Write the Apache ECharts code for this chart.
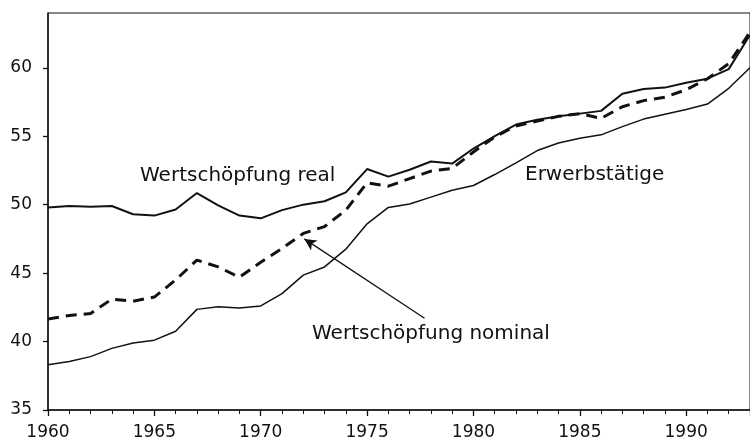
<!DOCTYPE html>
<html>
<head>
<meta charset="utf-8">
<script src="https://cdn.jsdelivr.net/npm/echarts@6/dist/echarts.min.js"></script>
<style>
  html, body { margin: 0; padding: 0; background: #fff; }
  #chart { width: 750px; height: 442px; }
</style>
</head>
<body>
<div id="chart"></div>
<script>
// Jahre 1960 - 1993
const years = [1960, 1961, 1962, 1963, 1964, 1965, 1966, 1967, 1968, 1969,
  1970, 1971, 1972, 1973, 1974, 1975, 1976, 1977, 1978, 1979,
  1980, 1981, 1982, 1983, 1984, 1985, 1986, 1987, 1988, 1989,
  1990, 1991, 1992, 1993]

const wertReal = [49.8, 49.9, 49.85, 49.9, 49.3, 49.2, 49.65, 50.85, 49.95, 49.2,
  49.0, 49.6, 50.0, 50.25, 50.9, 52.6, 52.05, 52.55, 53.15, 53.0,
  54.1, 55.0, 55.85, 56.2, 56.45, 56.65, 56.85, 58.1, 58.45, 58.55,
  58.9, 59.2, 59.9, 62.4]

const wertNominal = [41.65, 41.9, 42.05, 43.1, 42.95, 43.25, 44.5, 45.95, 45.45, 44.7,
  45.8, 46.8, 47.9, 48.4, 49.6, 51.6, 51.35, 51.9, 52.45, 52.65,
  53.85, 54.95, 55.75, 56.1, 56.45, 56.65, 56.3, 57.15, 57.6, 57.85,
  58.4, 59.2, 60.3, 62.6]

const erwerbstaetige = [38.3, 38.55, 38.9, 39.5, 39.9, 40.1, 40.75, 42.35, 42.55, 42.45,
  42.6, 43.5, 44.85, 45.45, 46.75, 48.6, 49.8, 50.05, 50.55, 51.05,
  51.4, 52.2, 53.05, 53.95, 54.5, 54.85, 55.1, 55.7, 56.25, 56.6,
  56.95, 57.35, 58.5, 60.0]

// Pfeil: von der Beschriftung zur nominalen Kurve
const arrowFrom = [1977.7, 41.7]
const arrowTo = [1972.05, 47.5]

const pair = arr => years.map((y, i) => [y, arr[i]])
const font = 'DejaVu Sans'
const ink = '#111'

const chart = echarts.init(document.getElementById('chart'))

chart.setOption({
  animation: false,
  grid: {
    left: 48,
    top: 13,
    bottom: 32,
    right: -6,
    show: true,
    borderColor: ink,
    borderWidth: 1
  },
  xAxis: {
    type: 'value',
    min: 1960,
    max: 1993,
    interval: 5,
    axisLine: { lineStyle: { color: ink, width: 1.5 } },
    axisTick: { inside: false, length: 6, lineStyle: { color: ink, width: 1.3 } },
    minorTick: { show: true, splitNumber: 5, length: 4, lineStyle: { color: ink, width: 1 } },
    splitLine: { show: false },
    axisLabel: {
      showMaxLabel: false, color: ink, fontFamily: font, fontSize: 17, margin: 14,
      formatter: v => String(v)
    }
  },
  yAxis: {
    type: 'value',
    min: 35,
    max: 64,
    interval: 5,
    axisLine: { show: true, lineStyle: { color: ink, width: 1.5 } },
    axisTick: { show: true, inside: false, length: 5, lineStyle: { color: ink, width: 1.3 } },
    splitLine: { show: false },
    axisLabel: { showMaxLabel: false, color: ink, fontFamily: font, fontSize: 17, margin: 16 }
  },
  series: [
    {
      name: 'Wertschöpfung real',
      type: 'line',
      data: pair(wertReal),
      symbol: 'none',
      lineStyle: { color: ink, width: 2 }
    },
    {
      name: 'Wertschöpfung nominal',
      type: 'line',
      data: pair(wertNominal),
      symbol: 'none',
      lineStyle: { color: ink, width: 3, type: [11, 7] },
      markLine: {
        silent: true,
        symbol: ['none', 'arrow'],
        symbolSize: [9, 12],
        label: { show: false },
        lineStyle: { color: ink, width: 1.3, type: 'solid' },
        data: [[{ coord: arrowFrom }, { coord: arrowTo }]]
      }
    },
    {
      name: 'Erwerbstätige',
      type: 'line',
      data: pair(erwerbstaetige),
      symbol: 'none',
      lineStyle: { color: ink, width: 1.5 }
    }
  ],
  graphic: [
    {
      type: 'text', left: 140, top: 166,
      style: { text: 'Wertschöpfung real', fill: ink, font: '20px "DejaVu Sans"' }
    },
    {
      type: 'text', left: 525, top: 165,
      style: { text: 'Erwerbstätige', fill: ink, font: '20px "DejaVu Sans"' }
    },
    {
      type: 'text', left: 312, top: 324,
      style: { text: 'Wertschöpfung nominal', fill: ink, font: '20px "DejaVu Sans"' }
    }
  ]
})
</script>
</body>
</html>
